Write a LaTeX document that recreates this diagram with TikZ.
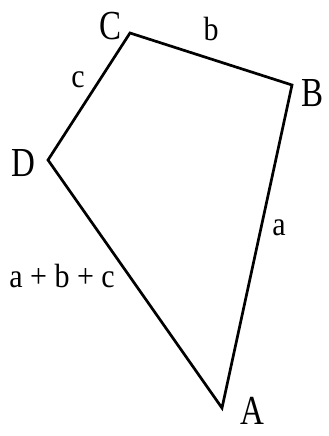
\documentclass[tikz,border=0pt]{standalone}
\usepackage{fontspec}
\setmainfont{Liberation Serif}
\usepackage{tikz}
\usetikzlibrary{positioning}

% tall letters, as in the figure
\newcommand{\tallvtx}[1]{\scalebox{1}[1.25]{\fontsize{33}{33}\selectfont #1}}
\newcommand{\talledge}[1]{\scalebox{1}[1.12]{\fontsize{30}{30}\selectfont #1}}

\begin{document}
\begin{tikzpicture}[x=1pt,y=-1pt,
  vlabel/.style={inner sep=0pt},
  elabel/.style={inner sep=0pt},
  side/.style={line width=2.7pt,line join=miter}]
\useasboundingbox (0,0) rectangle (329,436);
\coordinate (A) at (222,408);
\coordinate (B) at (292,85);
\coordinate (C) at (130,33);
\coordinate (D) at (48,160);
\draw[side] (A) -- (B) -- (C) -- (D) -- cycle;
\node[vlabel] (lC) at (111,26) {\tallvtx{C}};
\node[vlabel] (lB) at (313,93) {\tallvtx{B}};
\node[vlabel] (lA) at (252,411) {\tallvtx{A}};
\node[vlabel] (lD) at (23,163) {\tallvtx{D}};
\node[elabel] (lb) at (211,29) {\talledge{b}};
\node[elabel] (lc) at (78,80) {\talledge{c}};
\node[elabel] (la) at (279,228) {\talledge{a}};
\node[elabel] (labc) at (62,276) {\talledge{a + b + c}};
\end{tikzpicture}
\end{document}
